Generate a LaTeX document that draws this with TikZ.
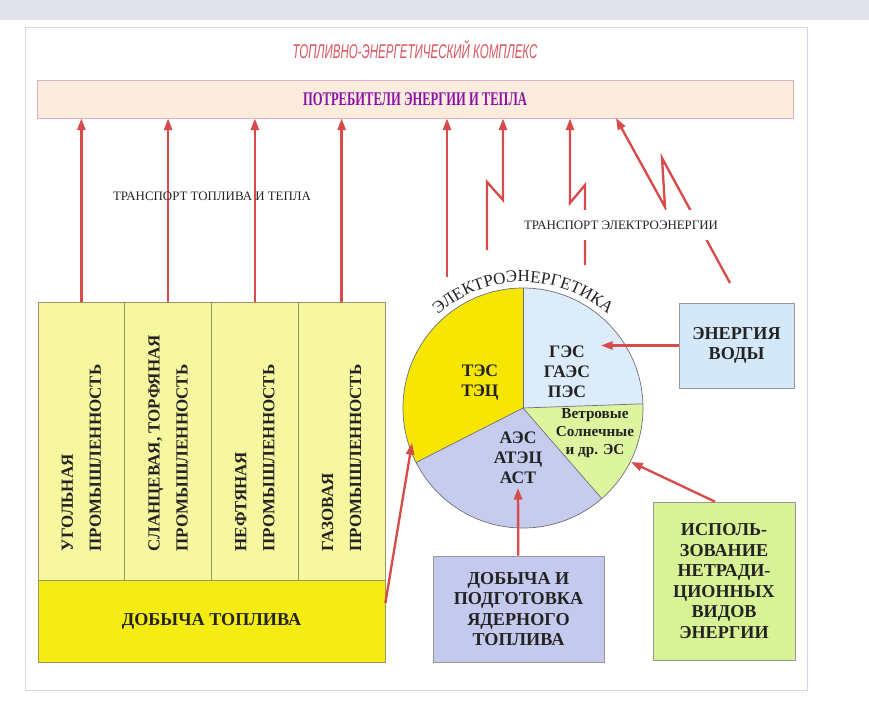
\documentclass[tikz,border=0pt]{standalone}
\usepackage{fontspec}
\setmainfont{Liberation Serif}
\newfontfamily\condserif[FakeStretch=0.65]{Liberation Serif}
\newfontfamily\condsans[FakeStretch=0.58]{Liberation Sans}
\usetikzlibrary{arrows.meta, positioning, calc, decorations.text}

\definecolor{bandgray}{RGB}{226,226,234}
\definecolor{framegray}{RGB}{210,216,228}
\definecolor{titlered}{RGB}{215,85,95}
\definecolor{consfill}{RGB}{252,236,222}
\definecolor{consdraw}{RGB}{222,175,195}
\definecolor{conspurple}{RGB}{140,20,165}
\definecolor{arrowred}{RGB}{215,75,75}
\definecolor{darktext}{RGB}{35,35,35}
\definecolor{boxgray}{RGB}{150,150,150}
\definecolor{colline}{RGB}{150,150,100}
\definecolor{colyellow}{RGB}{247,247,160}
\definecolor{fuelyellow}{RGB}{245,236,20}
\definecolor{pieyellow}{RGB}{246,230,0}
\definecolor{pieblue}{RGB}{220,236,250}
\definecolor{piegreen}{RGB}{222,245,160}
\definecolor{pielav}{RGB}{198,204,238}
\definecolor{piegray}{RGB}{110,110,120}
\definecolor{waterblue}{RGB}{212,232,248}
\definecolor{nucblue}{RGB}{196,202,238}
\definecolor{greenbox}{RGB}{216,242,150}

\newcommand{\pxu}{0.03cm}

\begin{document}
\begin{tikzpicture}[
    x=\pxu, y=-\pxu,
    transport/.style={font=\fontsize{11}{13}\selectfont, text=darktext, inner xsep=2pt, inner ysep=9pt},
    block/.style={rectangle, draw=boxgray, line width=0.6pt, align=center, text=darktext, font=\bfseries\fontsize{15.5}{17.5}\selectfont},
    column/.style={rectangle, draw=colline, line width=0.6pt, fill=colyellow, minimum width=86.75*\pxu, minimum height=278*\pxu},
    coltext/.style={rotate=90, anchor=west, align=left, text=darktext, font=\bfseries\fontsize{14.5}{24}\selectfont},
    pietext/.style={align=center, text=darktext, font=\bfseries\fontsize{15}{17}\selectfont},
    arrow/.style={-{Triangle[length=10pt, width=7pt]}, draw=arrowred, line width=2pt}
  ]

  \useasboundingbox (0,0) rectangle (869,705);
  \fill[bandgray] (0,0) rectangle (869,20);
  \draw[framegray, line width=0.8pt] (25,27) rectangle (807,690);

  \node[font=\condsans\itshape\fontsize{17}{20}\selectfont, text=titlered] (title) at (415,50) {ТОПЛИВНО-ЭНЕРГЕТИЧЕСКИЙ КОМПЛЕКС};
  \node[rectangle, draw=consdraw, fill=consfill, line width=0.8pt, minimum width=756*\pxu, minimum height=38*\pxu,
        text=conspurple, font=\condserif\bfseries\fontsize{16.5}{19}\selectfont] (cons) at (415,99) {ПОТРЕБИТЕЛИ ЭНЕРГИИ И ТЕПЛА};

  \foreach \cx/\i/\ta/\tb in {81.375/1/УГОЛЬНАЯ/ПРОМЫШЛЕННОСТЬ, 168.125/2/СЛАНЦЕВАЯ{,} ТОРФЯНАЯ/ПРОМЫШЛЕННОСТЬ,
                            254.875/3/НЕФТЯНАЯ/ПРОМЫШЛЕННОСТЬ, 341.625/4/ГАЗОВАЯ/ПРОМЫШЛЕННОСТЬ}{
    \node[column] (c\i) at (\cx,441) {};
    \node[coltext] (t\i) at ($(c\i.south)+(0,-25)$) {\ta\\\tb};
    \draw[arrow] (c\i.north) -- (c\i.north |- cons.south);
  }
  \node[block, fill=fuelyellow, draw=colline, minimum width=347*\pxu, minimum height=82*\pxu] (fuel) at (211.5,621) {ДОБЫЧА ТОПЛИВА};

  \begin{scope}[shift={(523,408)}, y=\pxu]
    \fill[pieyellow] (0,0) -- (90:120) arc[start angle=90, end angle=207, radius=120] -- cycle;
    \fill[pielav] (0,0) -- (207:120) arc[start angle=207, end angle=311, radius=120] -- cycle;
    \fill[piegreen] (0,0) -- (311:120) arc[start angle=311, end angle=362, radius=120] -- cycle;
    \fill[pieblue] (0,0) -- (2:120) arc[start angle=2, end angle=90, radius=120] -- cycle;
    \draw[piegray, line width=0.6pt] (0,0) circle[radius=120];
    \foreach \a in {2,90,207,311}
      \draw[piegray, line width=0.6pt] (0,0) -- (\a:120);
    \path[decorate, decoration={text along path, text={|\fontsize{14.5}{15}\selectfont\color{darktext}|ЭЛЕКТРОЭНЕРГЕТИКА},
          text align={center}}] (145:126) arc[start angle=145, end angle=35, radius=126];
  \end{scope}

  \node[pietext] (tes) at (480,383) {ТЭС\\ТЭЦ};
  \node[pietext] (ges) at (567,372) {ГЭС\\ГАЭС\\ПЭС};
  \node[pietext, font=\bfseries\fontsize{13}{15.5}\selectfont] (ves) at (595,433) {Ветровые\\Солнечные\\и др. ЭС};
  \node[pietext] (aes) at (518,458) {АЭС\\АТЭЦ\\АСТ};

  \node[block, fill=waterblue, minimum width=115*\pxu, minimum height=85*\pxu] (water) at (736.5,345.5) {ЭНЕРГИЯ\\ВОДЫ};
  \node[block, fill=nucblue, minimum width=171*\pxu, minimum height=106*\pxu] (nuc) at (518.5,609) {ДОБЫЧА И\\ПОДГОТОВКА\\ЯДЕРНОГО\\ТОПЛИВА};
  \node[block, fill=greenbox, minimum width=142*\pxu, minimum height=158*\pxu] (green) at (724,581)
    {ИСПОЛЬ-\\ЗОВАНИЕ\\НЕТРАДИ-\\ЦИОННЫХ\\ВИДОВ\\ЭНЕРГИИ};

  \coordinate (e1) at (447,277);
  \coordinate (e2) at (487,250);
  \coordinate (e3) at (585,265);
  \coordinate (e4) at (730,283);
  \coordinate (tiptes) at (412,443);
  \coordinate (tipges) at (601,345.5);
  \coordinate (tipves) at (631,462);

  \draw[arrow] (e1) -- (e1 |- cons.south);
  \draw[arrow] (e2) -- ++(0,-68) -- ++(16,18) coordinate (z2) -- (z2 |- cons.south);
  \draw[arrow] (e3) -- ++(0,-80) -- ++(-15,18) coordinate (z3) -- (z3 |- cons.south);
  \draw[arrow] (e4) -- ++(-68,-125) -- ++(3,49) -- ++(-49,-89);
  \draw[arrow] ($(fuel.east)+(0,-18)$) -- (tiptes);
  \draw[arrow] (water) -- (tipges);
  \draw[arrow] ($(green.north)+(-9,0)$) -- (tipves);
  \draw[arrow] (nuc) -- (aes.south);

  \node[transport] (tfuel) at (212,196) {ТРАНСПОРТ ТОПЛИВА И ТЕПЛА};
  \node[transport, fill=white] (telec) at (621,225) {ТРАНСПОРТ ЭЛЕКТРОЭНЕРГИИ};
\end{tikzpicture}
\end{document}
